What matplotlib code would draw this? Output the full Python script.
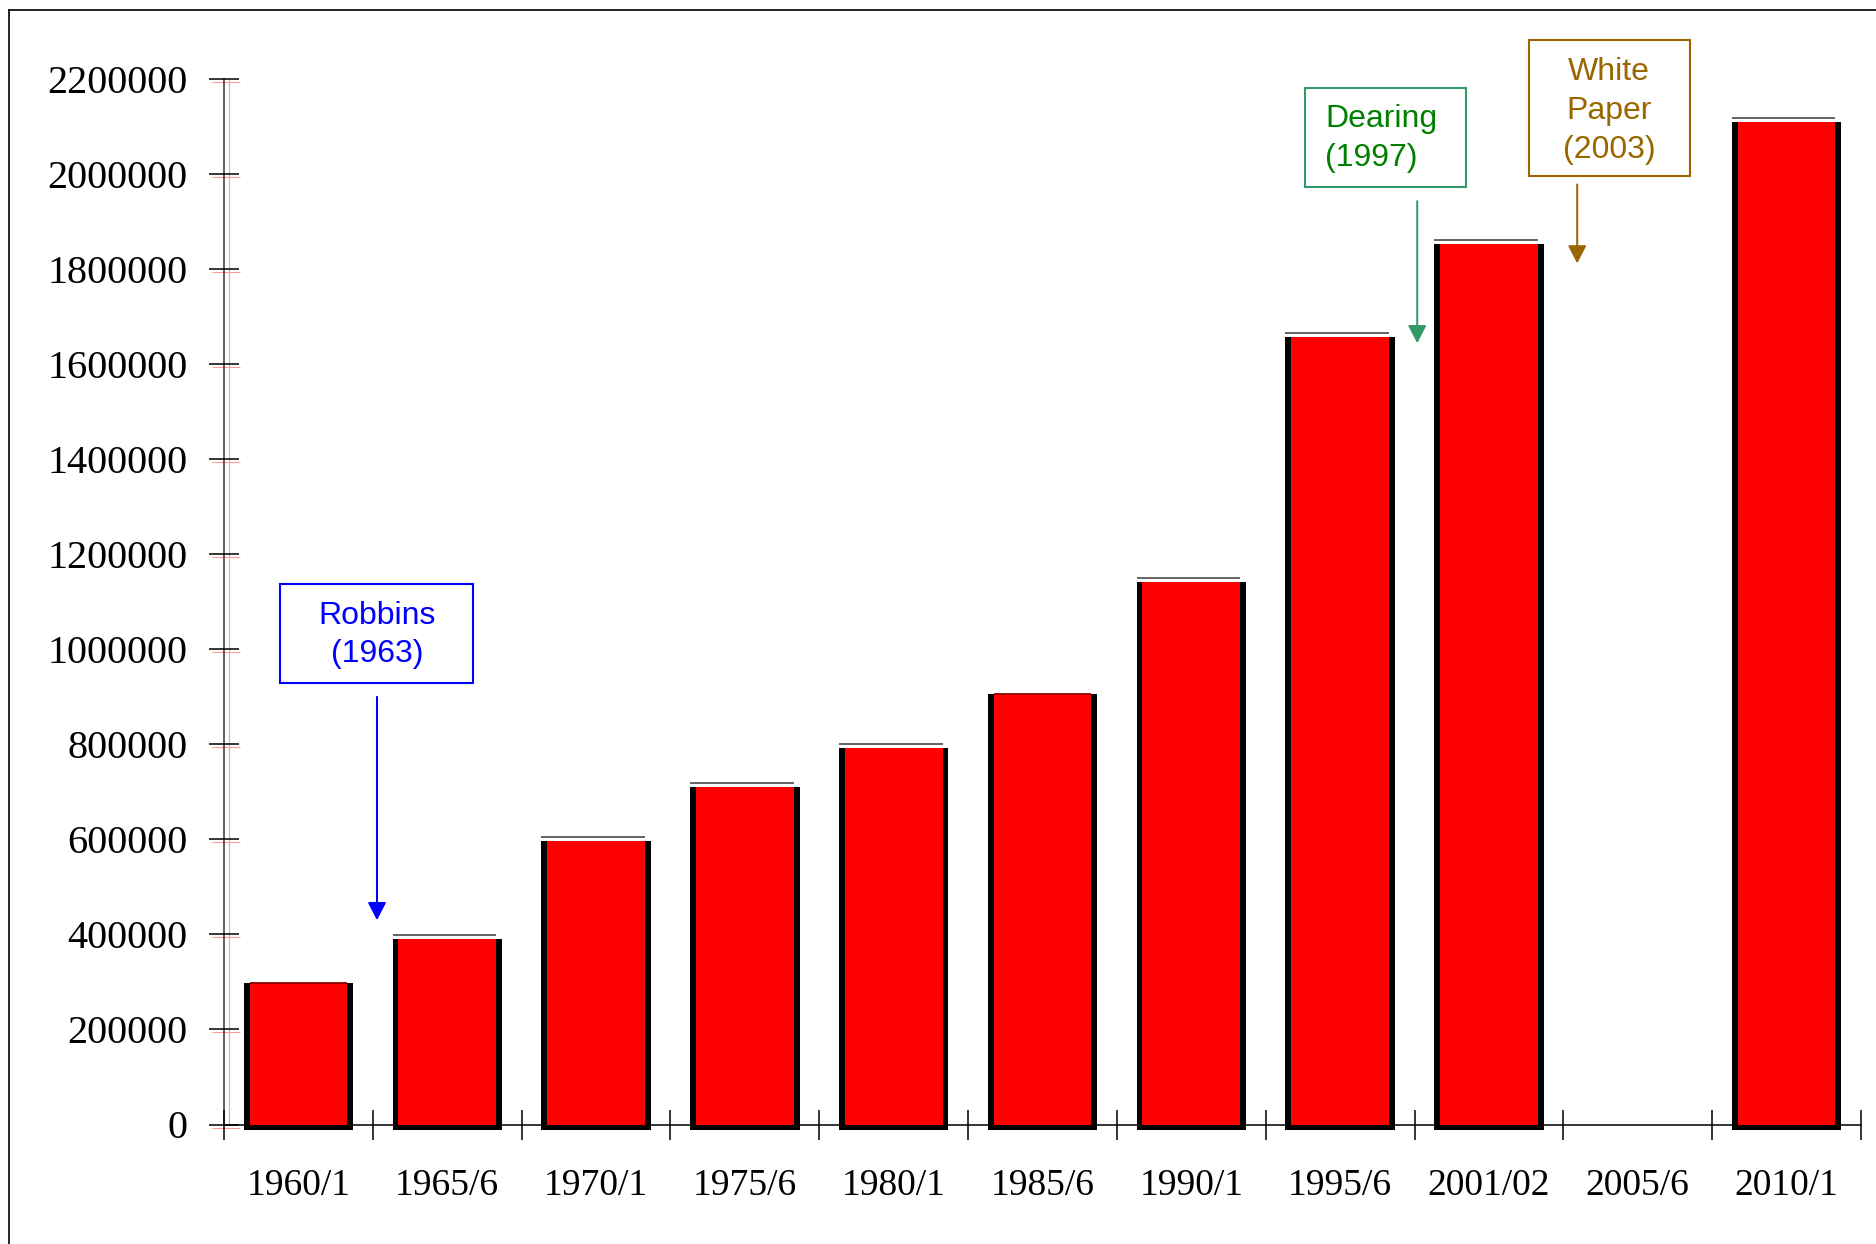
import numpy as np
import matplotlib
matplotlib.use('Agg')
import matplotlib.pyplot as plt
from matplotlib.transforms import offset_copy
from matplotlib.lines import Line2D
from matplotlib.patches import Rectangle

# ---------------- data ----------------
categories = ['1960/1', '1965/6', '1970/1', '1975/6', '1980/1', '1985/6',
              '1990/1', '1995/6', '2001/02', '2005/6', '2010/1']
students = [297000, 390000, 596000, 710000, 792000, 906000,
            1141000, 1657000, 1853000, np.nan, 2110000]
has_top_face = [False, True, True, True, True, False,
                True, True, True, False, True]
y_ticks = list(range(0, 2200001, 200000))

# ---------------- figure / axes ----------------
W, H, DPI = 1876, 1244, 100
fig = plt.figure(figsize=(W / DPI, H / DPI), dpi=DPI)
fig.patch.set_facecolor('white')

ax_l, ax_r, ax_t, ax_b = 224, 1861, 79, 1124.5
ax = fig.add_axes([ax_l / W, 1 - ax_b / H, (ax_r - ax_l) / W, (ax_b - ax_t) / H])
ax.set_xlim(-0.5, len(categories) - 0.5)
ax.set_ylim(0, 2200000)
ax.patch.set_visible(False)
for s in ['top', 'right']:
    ax.spines[s].set_visible(False)
ax.spines['left'].set_color('#333333')
ax.spines['left'].set_linewidth(1.1)
ax.spines['bottom'].set_color('black')
ax.spines['bottom'].set_linewidth(1.1)
ax.spines['left'].set_zorder(1)

px_per_y = (ax_b - ax_t) / 2200000
px_per_x = (ax_r - ax_l) / len(categories)

# ---------------- bars ----------------
border_px = 5.8
bar_w = 0.735
inner_w = bar_w - 2 * border_px / px_per_x
x = np.arange(len(categories))
vals = np.array(students, dtype=float)
mask = ~np.isnan(vals)
by = border_px / px_per_y
ax.bar(x[mask], vals[mask] + by, bottom=-by, width=bar_w, color='black',
       zorder=3, clip_on=False)
ax.bar(x[mask], vals[mask], width=inner_w, color='#FF0000', zorder=4)

cap_tr = offset_copy(ax.transData, fig=fig, x=0, y=4, units='dots')
for xi, v, cap in zip(x, vals, has_top_face):
    if np.isnan(v):
        continue
    if cap:
        ax.plot([xi - bar_w / 2, xi + inner_w / 2], [v, v], color='#3a3a3a',
                lw=1.1, transform=cap_tr, solid_capstyle='butt', zorder=5,
                clip_on=False)
    else:
        ax.plot([xi - inner_w / 2, xi + inner_w / 2], [v, v], color='#8a0000',
                lw=1.3, solid_capstyle='butt', zorder=5, clip_on=False)

# ---------------- ticks ----------------
ax.set_xticks(np.arange(-0.5, len(categories), 1.0))
ax.set_xticklabels([])
ax.set_xticks(x, minor=True)
ax.set_xticklabels(categories, minor=True, fontfamily='Liberation Serif',
                   fontsize=27)
ax.tick_params(axis='x', which='major', direction='inout', length=21.6,
               width=1.1, color='black')
ax.tick_params(axis='x', which='minor', length=0, pad=32)

ax.set_yticks(y_ticks)
ax.set_yticklabels([str(v) for v in y_ticks], fontfamily='Liberation Serif',
                   fontsize=29)
ax.tick_params(axis='y', direction='inout', length=20.9, width=1.1, pad=16,
               color='black')

# faint pink duplicate axis line / ticks (as in the reference rendering)
pink = '#ff9a9a'
pk_tr = offset_copy(ax.transData, fig=fig, x=5, y=0, units='dots')
ax.plot([-0.5, -0.5], [0, 2200000], color=pink, lw=0.8, transform=pk_tr,
        clip_on=False, zorder=0)
pk_tr2 = offset_copy(ax.transData, fig=fig, x=2, y=-3, units='dots')
ax.plot(np.full(len(y_ticks), -0.5), y_ticks, linestyle='none', marker='_',
        markersize=20.5, markeredgewidth=0.8, color=pink, transform=pk_tr2,
        clip_on=False, zorder=0)

# ---------------- annotations ----------------
font_ann = dict(fontfamily='Liberation Sans', fontsize=23, linespacing=1.38)


def box(x0, x1, y0, y1, color, lw=1.5):
    ax.add_patch(Rectangle((x0, y0), x1 - x0, y1 - y0, fill=False,
                           edgecolor=color, lw=lw, clip_on=False, zorder=6))


def arrow(xa, y_from, y_to, color):
    ax.annotate('', xy=(xa, y_to), xytext=(xa, y_from),
                arrowprops=dict(arrowstyle='-|>,head_length=1.08,head_width=0.56',
                                mutation_scale=10, color=color, lw=1.45,
                                shrinkA=0, shrinkB=0),
                annotation_clip=False, zorder=6)


# Robbins
box(-0.124, 1.173, 929000, 1137000, '#0000FF')
ax.text(0.528, 1030000, 'Robbins\n(1963)', color='#0000FF', ha='center',
        va='center', multialignment='center', zorder=7, **font_ann)
arrow(0.528, 900000, 430000, '#0000FF')

# Dearing
box(6.763, 7.845, 1973000, 2181000, '#339966')
ax.text(6.899, 2075000, 'Dearing\n(1997)', color='#008000', ha='left',
        va='center', multialignment='left', zorder=7, clip_on=False, **font_ann)
arrow(7.518, 1943000, 1644000, '#339966')

# White Paper
box(8.268, 9.350, 1995000, 2282000, '#996600')
ax.text(8.808, 2133000, 'White\nPaper\n(2003)', color='#996600', ha='center',
        va='center', multialignment='center', zorder=7, clip_on=False,
        **font_ann)
arrow(8.593, 1978000, 1812000, '#996600')

# ---------------- outer frame ----------------
fig.add_artist(Line2D([9 / W, 9 / W], [0, 1 - 10 / H], color='black', lw=1.2))
fig.add_artist(Line2D([9 / W, 1], [1 - 10 / H, 1 - 10 / H], color='black', lw=1.2))

fig.savefig('out.png', dpi=DPI)
